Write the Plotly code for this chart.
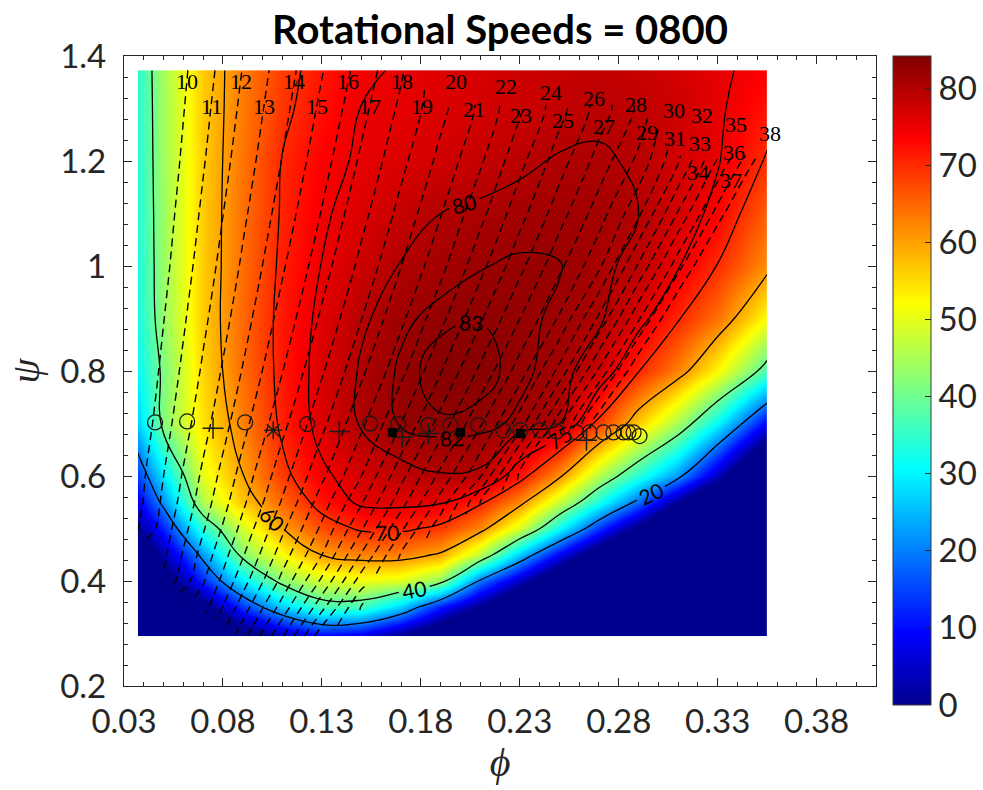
import numpy as np
import plotly.graph_objects as go

# Grid nodes: flow coefficient (phi) columns and head coefficient (psi) rows
phi = [0.037, 0.05, 0.07, 0.09, 0.11, 0.13, 0.15, 0.17, 0.19, 0.21, 0.23, 0.25, 0.27, 0.29, 0.31, 0.33, 0.355]
psi = [0.295, 0.35, 0.40, 0.45, 0.50, 0.55, 0.60, 0.70, 0.80, 0.90, 1.00, 1.10, 1.20, 1.30, 1.373]

# Efficiency (%) at every node, one row per psi value (values under 0 sit in the saturated low band)
efficiency = [
    [-40, -40, -24, -6.5, 3, 9, 7, -1, -10, -23, -35, -40, -40, -40, -40, -40, -40],
    [-30, -22, -4, 13.4, 26.4, 36.5, 36, 26.7, 11, -1, -13, -25, -35, -40, -40, -40, -40],
    [-17, -6, 12.2, 29.4, 42.2, 48.4, 50.7, 49.4, 42.6, 19, 4, -12, -30, -40, -40, -40, -40],
    [-10, 2.6, 22.3, 42, 51.4, 60.2, 62.5, 62.7, 59.2, 46.5, 26, 8.3, -7.7, -24, -40, -40, -40],
    [0, 12.4, 34.5, 48.6, 59.9, 67.2, 70.8, 71, 68.9, 62.3, 49, 31.4, 13.9, -2.5, -20, -40, -40],
    [8, 22, 45.5, 56.9, 64.8, 72.2, 75.8, 76, 75.5, 70.9, 61.9, 47.5, 32.7, 18, 0, -18, -40],
    [14.6, 28.9, 50, 59.8, 68.6, 74.2, 77, 79, 79.8, 79.5, 72.3, 61, 45.9, 33.6, 22, 3.8, -21],
    [27, 42, 54.3, 62.8, 71, 76.5, 80.4, 82.2, 82.8, 82.6, 81.6, 80.1, 68.8, 56.3, 45, 30.8, 9],
    [31, 41.4, 55.6, 64.5, 71.5, 76.7, 80.4, 82.3, 83.8, 83.5, 82.5, 81.1, 78.1, 70.2, 62.7, 52.3, 37],
    [32.7, 43.6, 56.3, 64.8, 71.5, 76.1, 79.5, 81.6, 82.6, 82.95, 82.4, 81.7, 80.5, 76.6, 70.4, 64, 52],
    [33.1, 44, 56.3, 64.4, 71, 75.1, 77.9, 80.2, 81.1, 81.9, 82.3, 82.1, 80.7, 79.1, 75.3, 69.8, 61.5],
    [33.7, 44, 56.4, 64.1, 70.5, 74.5, 76.5, 78.3, 80, 80.6, 81.1, 81.4, 81.2, 80, 77.2, 73.8, 65.5],
    [33.9, 44.3, 56.3, 63.8, 70.2, 73.7, 75.6, 76.5, 77.5, 78.5, 79.4, 80.3, 80.4, 79.6, 77.3, 75.3, 69.5],
    [34.1, 44.5, 56.4, 63.2, 69, 72.3, 75.1, 75.7, 76.4, 77.1, 77.8, 78.5, 79.3, 78.9, 77.8, 75.6, 72],
    [34.3, 44.7, 56.4, 63, 68.4, 71.8, 74.2, 75.5, 76.2, 77, 77.8, 78.4, 78.7, 78.3, 77, 75.6, 73.8],
]

# Quantity drawn as dashed iso-lines (10 ... 38); None where it is not defined
N = None
dashed_value = [
    [N, N, N, 19.6, 22.9, 26.7, N, N, N, N, N, N, N, N, N, N, N],
    [N, N, 15.6, 18.5, 21.4, 24.7, 28.1, N, N, N, N, N, N, N, N, N, N],
    [N, 12.2, 14.9, 17.6, 20.3, 23.2, 26.5, N, N, N, N, N, N, N, N, N, N],
    [N, 11.8, 14.4, 16.9, 19.5, 22.0, 25.1, 28.1, N, N, N, N, N, N, N, N, N],
    [9.9, 11.5, 13.9, 16.3, 18.8, 21.2, 23.9, 26.8, 29.7, N, N, N, N, N, N, N, N],
    [9.7, 11.2, 13.5, 15.8, 18.1, 20.5, 22.9, 25.6, 28.4, 32.0, N, N, N, N, N, N, N],
    [9.6, 11.0, 13.2, 15.4, 17.6, 19.8, 22.0, 24.7, 27.3, 29.9, 34.3, N, N, N, N, N, N],
    [9.24, 10.57, 12.61, 14.66, 16.70, 18.74, 20.79, 22.99, 25.43, 27.87, 30.5, 34.66, 38.82, 42.97, 47.13, 51.29, 56.5],
    [9.0, 10.24, 12.15, 14.06, 15.97, 17.88, 19.80, 21.71, 23.93, 26.21, 28.49, 31.3, 35.19, 39.08, 42.97, 46.84, 51.7],
    [8.79, 9.97, 11.77, 13.57, 15.38, 17.17, 18.98, 20.78, 22.69, 24.85, 26.99, 29.13, 32.19, 35.86, 39.53, 43.2, 47.8],
    [8.64, 9.73, 11.44, 13.15, 14.87, 16.57, 18.28, 19.99, 21.70, 23.67, 25.71, 27.75, 29.79, 33.14, 36.61, 40.09, 44.44],
    [8.48, 9.54, 11.17, 12.80, 14.43, 16.06, 17.69, 19.32, 20.95, 22.69, 24.63, 26.57, 28.52, 30.79, 34.11, 37.43, 41.58],
    [8.35, 9.36, 10.92, 12.48, 14.04, 15.61, 17.17, 18.73, 20.29, 21.85, 23.70, 25.54, 27.41, 29.26, 31.91, 35.09, 39.05],
    [8.23, 9.21, 10.71, 12.21, 13.71, 15.21, 16.71, 18.21, 19.71, 21.21, 22.84, 24.63, 26.42, 28.2, N, N, N],
    [8.16, 9.11, 10.56, 12.03, 13.49, 14.94, 16.40, 17.87, N, N, N, N, N, N, N, N, N],
]
dash_levels = list(range(10, 39))

# Measured operating points
circle_phi = [0.0457, 0.0619, 0.0912, 0.1226, 0.1544, 0.1686, 0.1838, 0.1949, 0.2091, 0.2217, 0.2303,
              0.2404, 0.2485, 0.2586, 0.2652, 0.2723, 0.2773, 0.2824, 0.2849, 0.2875, 0.2905]
circle_psi = [0.702, 0.704, 0.702, 0.699, 0.700, 0.699, 0.697, 0.697, 0.697, 0.687, 0.687,
              0.687, 0.685, 0.683, 0.683, 0.683, 0.683, 0.683, 0.683, 0.683, 0.676]
plus_phi = [0.075, 0.1388, 0.1706, 0.1838, 0.2637]
plus_psi = [0.691, 0.685, 0.674, 0.681, 0.668]
star_phi = [0.1054]
star_psi = [0.687]
square_phi = [0.1656, 0.2000, 0.2303]
square_psi = [0.683, 0.683, 0.681]

title_text = "Rotational Speeds = 0800"

jet = [[0.0, "rgb(0,0,143)"], [0.111, "rgb(0,0,255)"], [0.365, "rgb(0,255,255)"],
       [0.619, "rgb(255,255,0)"], [0.873, "rgb(255,0,0)"], [1.0, "rgb(128,0,0)"]]

axis_col = "#262626"
tick_font = dict(family="Lato", size=33, color=axis_col)

# Plot-area geometry (pixels), used to keep level numbers apart
W, H = 983, 790
M_L, M_R, M_T, M_B = 124, 107, 56, 104
X_RANGE = [0.03, 0.41]
Y_RANGE = [0.2, 1.4]
px_per_phi = (W - M_L - M_R) / (X_RANGE[1] - X_RANGE[0])
px_per_psi = (H - M_T - M_B) / (Y_RANGE[1] - Y_RANGE[0])

fig = go.Figure()

# Smooth colour field with its colour bar
fig.add_trace(go.Contour(
    x=phi, y=psi, z=efficiency,
    colorscale=jet, zauto=False, zmin=0, zmax=84.2,
    contours=dict(coloring="heatmap", showlines=False),
    line=dict(width=0),
    hoverinfo="skip",
    colorbar=dict(
        x=1.0222, xanchor="left", xpad=0, ypad=0,
        y=1.0, yanchor="top", lenmode="pixels", len=649,
        thickness=38, outlinecolor="#3a3a3a", outlinewidth=1,
        tickvals=list(range(0, 90, 10)), ticks="inside", ticklen=6,
        tickcolor=axis_col, tickfont=tick_font,
    ),
))

# Dashed iso-lines
fig.add_trace(go.Contour(
    x=phi, y=psi, z=dashed_value,
    autocontour=False, connectgaps=False,
    contours=dict(start=dash_levels[0], end=dash_levels[-1], size=1, coloring="none", showlabels=False),
    line=dict(color="black", width=1.4, dash="8px,5px", smoothing=0.8),
    showscale=False, hoverinfo="skip",
))

# Solid efficiency iso-lines with inline labels
for start, end, size in [(20, 60, 20), (70, 80, 5), (82, 83, 1)]:
    fig.add_trace(go.Contour(
        x=phi, y=psi, z=efficiency,
        autocontour=False,
        contours=dict(start=start, end=end, size=size, coloring="none", showlabels=True,
                      labelfont=dict(family="Lato", size=21, color="black")),
        line=dict(color="black", width=1.3, smoothing=1.3),
        showscale=False, hoverinfo="skip",
    ))

# Operating points
mk_col = "#1a1a1a"
fig.add_trace(go.Scatter(x=circle_phi, y=circle_psi, mode="markers", hoverinfo="skip",
                         marker=dict(symbol="circle-open", size=15, color=mk_col, line=dict(width=1.3))))
fig.add_trace(go.Scatter(x=plus_phi, y=plus_psi, mode="markers", hoverinfo="skip",
                         marker=dict(symbol="cross-thin-open", size=15, color=mk_col, line=dict(width=1.5))))
fig.add_trace(go.Scatter(x=star_phi, y=star_psi, mode="markers", hoverinfo="skip",
                         marker=dict(symbol="asterisk-open", size=15, color=mk_col, line=dict(width=1.5))))
fig.add_trace(go.Scatter(x=square_phi, y=square_psi, mode="markers", hoverinfo="skip",
                         marker=dict(symbol="square", size=9, color="black")))

# Level numbers for the dashed lines, placed near the upper end of each line
V = np.array(dashed_value, dtype=float)
phi_arr = np.array(phi)


def crossing(row_psi, level):
    row = V[psi.index(row_psi)]
    ok = ~np.isnan(row)
    return float(np.interp(level, row[ok], phi_arr[ok]))


label_w, label_h = 25, 24      # text box in pixels
tier_step = 0.048
placed = []
for L in dash_levels:
    base = 1.352 - max(L - 20, 0) * 0.0055
    p_hi, p_lo = (1.30, 1.20) if L <= 28 else (1.20, 1.10)
    x_hi, x_lo = crossing(p_hi, L), crossing(p_lo, L)
    first = (L % 2) if L <= 28 else 0
    best = None
    for k in range(first, 3):
        yl = base - k * tier_step
        xl = x_lo + (x_hi - x_lo) * (yl - p_lo) / (p_hi - p_lo)
        clash = any(abs(xl - px) * px_per_phi < label_w and abs(yl - py) * px_per_psi < label_h
                    for px, py in placed)
        if not clash:
            best = (xl, yl)
            break
    if best is None:
        yl = base - 2 * tier_step
        best = (x_lo + (x_hi - x_lo) * (yl - p_lo) / (p_hi - p_lo), yl)
    placed.append(best)
    fig.add_annotation(x=best[0], y=best[1], text=str(L), showarrow=False,
                       font=dict(family="Liberation Serif", size=22, color="black"),
                       xanchor="center", yanchor="middle", borderpad=0)

fig.update_layout(
    width=W, height=H,
    margin=dict(l=M_L, r=M_R, t=M_T, b=M_B, autoexpand=False),
    paper_bgcolor="white", plot_bgcolor="white",
    showlegend=False,
    title=dict(text=title_text, x=0.5, xref="paper", xanchor="center",
               y=1 - 30 / H, yref="container", yanchor="middle",
               font=dict(family="Lato", size=40, color="black", weight="bold")),
)

fig.update_xaxes(
    range=X_RANGE, tick0=0.03, dtick=0.05, tickformat=".2f",
    ticks="inside", ticklen=8, tickwidth=1.2, tickcolor=axis_col,
    showline=True, linecolor=axis_col, linewidth=1.3, mirror="ticks",
    showgrid=False, zeroline=False, tickfont=tick_font, ticklabelstandoff=6,
    minor=dict(tick0=0.03, dtick=0.01, ticks="inside", ticklen=4, tickwidth=1.1, tickcolor=axis_col, showgrid=False),
    title=dict(text="\u03d5", standoff=6,
               font=dict(family="Liberation Serif", size=40, color=axis_col, style="italic")),
)
fig.update_yaxes(
    range=Y_RANGE, tick0=0.2, dtick=0.2,
    ticks="inside", ticklen=8, tickwidth=1.2, tickcolor=axis_col,
    showline=True, linecolor=axis_col, linewidth=1.3, mirror="ticks",
    showgrid=False, zeroline=False, tickfont=tick_font, ticklabelstandoff=10,
    minor=dict(tick0=0.2, dtick=0.04, ticks="inside", ticklen=4, tickwidth=1.1, tickcolor=axis_col, showgrid=False),
    title=dict(text="\u03c8", standoff=8,
               font=dict(family="Liberation Serif", size=40, color=axis_col, style="italic")),
)

fig.write_html("out.html")
